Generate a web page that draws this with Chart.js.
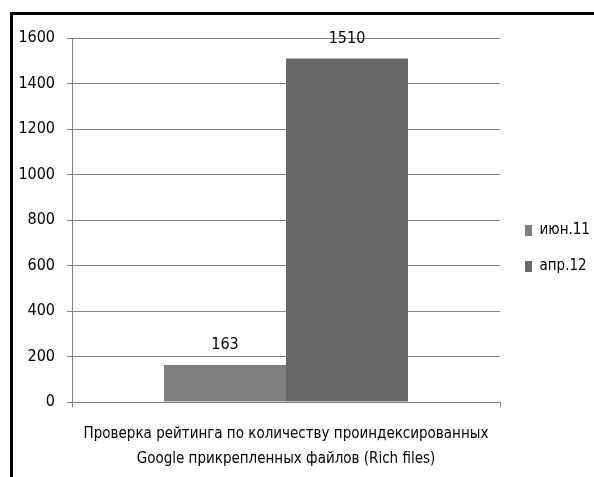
<!DOCTYPE html>
<html>
<head>
<meta charset="utf-8">
<script src="https://cdn.jsdelivr.net/npm/chart.js@4.4.0/dist/chart.umd.min.js"></script>
<style>
  html, body { margin: 0; padding: 0; background: #fff; }
  #wrap { width: 594px; height: 477px; }
</style>
</head>
<body>
<div id="wrap"><canvas id="chart"></canvas></div>
<script>
const categories = [['Проверка рейтинга по количеству проиндексированных', 'Google прикрепленных файлов (Rich files)']];
const seriesNames = ['июн.11', 'апр.12'];
const jun11Values = [163];
const apr12Values = [1510];
const yTicks = [0, 200, 400, 600, 800, 1000, 1200, 1400, 1600];

const FONT = '"Liberation Sans Narrow", "DejaVu Sans Condensed", "Liberation Sans", sans-serif';
const gridColor = '#848484';
const textColor = '#000';

// white page + black frame that runs off the right and bottom edges
const frame = {
  id: 'frame',
  beforeDraw(chart) {
    const ctx = chart.ctx;
    ctx.save();
    ctx.fillStyle = '#fff';
    ctx.fillRect(0, 0, chart.width, chart.height);
    ctx.fillStyle = '#000';
    ctx.fillRect(10, 12, 3, chart.height - 12);
    ctx.fillRect(10, 12, chart.width - 10, 3);
    ctx.restore();
  }
};

// value above each bar
const valueLabels = {
  id: 'valueLabels',
  afterDatasetsDraw(chart) {
    const ctx = chart.ctx;
    ctx.save();
    ctx.font = '16px ' + FONT;
    ctx.fillStyle = textColor;
    ctx.textAlign = 'center';
    ctx.textBaseline = 'middle';
    chart.data.datasets.forEach((ds, i) => {
      chart.getDatasetMeta(i).data.forEach((bar, j) => {
        ctx.fillText(ds.data[j], bar.x, bar.y - 20);
      });
    });
    ctx.restore();
  }
};

// move the legend a little right and up
const legendNudge = {
  id: 'legendNudge',
  afterLayout(chart) {
    const lg = chart.legend;
    if (lg) {
      lg.left += 4; lg.right += 4;
      lg.top -= 9; lg.bottom -= 9;
    }
  }
};

new Chart(document.getElementById('chart'), {
  type: 'bar',
  data: {
    labels: categories,
    datasets: [
      { label: seriesNames[0], data: jun11Values, backgroundColor: '#7f7f7f' },
      { label: seriesNames[1], data: apr12Values, backgroundColor: '#676767' }
    ]
  },
  options: {
    responsive: true,
    maintainAspectRatio: false,
    animation: false,
    devicePixelRatio: 1,
    layout: { padding: { left: 0, right: 0, top: 38, bottom: 0 } },
    datasets: { bar: { barPercentage: 1, categoryPercentage: 0.57 } },
    plugins: {
      tooltip: { enabled: false },
      legend: {
        position: 'right',
        maxWidth: 94,
        labels: {
          boxWidth: 7,
          boxHeight: 11,
          padding: 21,
          color: textColor,
          font: { family: FONT, size: 15 }
        }
      }
    },
    scales: {
      x: {
        grid: { drawOnChartArea: false, color: gridColor, tickLength: 5, offset: true },
        border: { color: gridColor },
        ticks: { color: textColor, padding: 15, font: { family: FONT, size: 15, lineHeight: 25 / 15 } },
        afterFit(scale) { scale.height = 75; }
      },
      y: {
        min: 0,
        max: 1600,
        afterBuildTicks(scale) { scale.ticks = yTicks.map(v => ({ value: v })); },
        grid: { color: gridColor, tickLength: 5 },
        border: { color: gridColor },
        ticks: { color: textColor, padding: 12, font: { family: FONT, size: 16 }, callback: v => String(v) },
        afterFit(scale) { scale.width = 72; }
      }
    }
  },
  plugins: [frame, valueLabels, legendNudge]
});
</script>
</body>
</html>
